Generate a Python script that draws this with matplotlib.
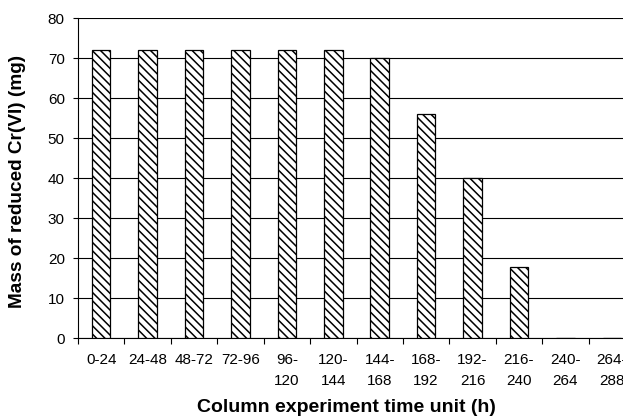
import matplotlib
matplotlib.use("Agg")
import matplotlib.pyplot as plt
import numpy as np

plt.rcParams['font.family'] = ['Liberation Sans', 'DejaVu Sans']
plt.rcParams['hatch.linewidth'] = 1.1

categories = ["0-24", "24-48", "48-72", "72-96", "96-\n120", "120-\n144", "144-\n168",
              "168-\n192", "192-\n216", "216-\n240", "240-\n264", "264-\n288"]
values = [72, 72, 72, 72, 72, 72, 70, 56, 40, 17.7, 0, 0]
yticks = [0, 10, 20, 30, 40, 50, 60, 70, 80]

W, H = 623, 419
fig = plt.figure(figsize=(W / 100, H / 100), dpi=100)
left, right, top, bottom = 78, 635, 18, 338
ax = fig.add_axes([left / W, 1 - bottom / H, (right - left) / W, (bottom - top) / H])

x = np.arange(len(categories))
ax.bar(x, values, width=0.40, color='white', edgecolor='black', linewidth=0.9,
       hatch='\\\\\\\\', zorder=3)

ax.set_xlim(-0.5, len(categories) - 0.5)
ax.set_ylim(0, 80)
ax.set_yticks(yticks)
ax.yaxis.grid(True, color='black', linewidth=0.8, zorder=0)
ax.set_axisbelow(True)

ax.set_xticks(x)
ax.set_xticklabels(categories, fontsize=11, linespacing=1.6)
ax.tick_params(axis='x', length=0, pad=11)
ax.set_xticks(np.arange(len(categories) + 1) - 0.5, minor=True)
ax.tick_params(axis='x', which='minor', length=4, width=0.8, direction='out')
ax.tick_params(axis='y', labelsize=11, length=3.5, width=0.8, pad=6)

for s in ['top', 'right']:
    ax.spines[s].set_visible(False)
ax.spines['left'].set_linewidth(0.8)
ax.spines['bottom'].set_linewidth(0.8)

fig.text(18 / W, 1 - 181 / H, "Mass of reduced Cr(VI) (mg)", rotation=90,
         ha='center', va='center', fontsize=13.7, fontweight='bold')
fig.text(346 / W, 1 - 407 / H, "Column experiment time unit (h)",
         ha='center', va='center', fontsize=14, fontweight='bold')

fig.savefig("out.png", dpi=100)
